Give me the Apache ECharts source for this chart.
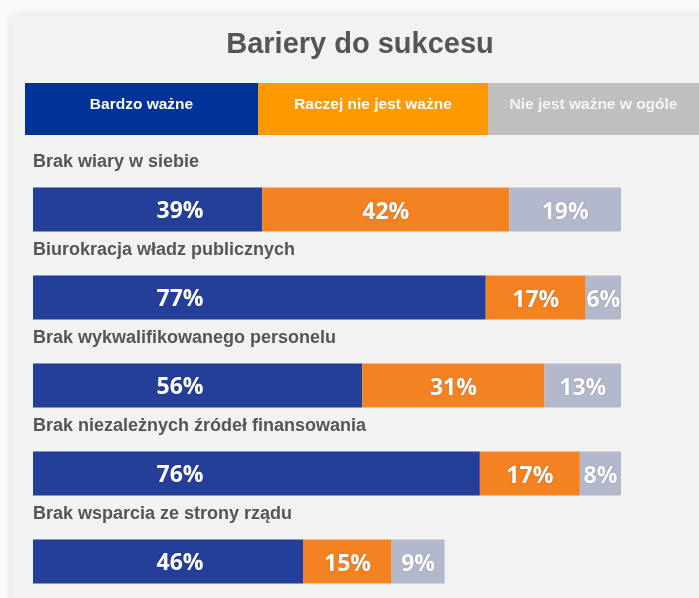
<!DOCTYPE html>
<html>
<head>
<meta charset="utf-8">
<script src="https://cdn.jsdelivr.net/npm/echarts@6/dist/echarts.min.js"></script>
<style>
html,body{margin:0;padding:0;background:#fafafa;}
#chart{width:699px;height:598px;}
</style>
</head>
<body>
<div id="chart"></div>
<script>
const titleText = 'Bariery do sukcesu';
const legendNames = ['Bardzo ważne', 'Raczej nie jest ważne', 'Nie jest ważne w ogóle'];
const categories = [
  'Brak wiary w siebie',
  'Biurokracja władz publicznych',
  'Brak wykwalifikowanego personelu',
  'Brak niezależnych źródeł finansowania',
  'Brak wsparcia ze strony rządu'
];
const bardzoWazne = [39, 77, 56, 76, 46];
const raczejNieWazne = [42, 17, 31, 17, 15];
const nieWazneWOgole = [19, 6, 13, 8, 9];

const colors = ['#233f99', '#f58220', '#b3b9cc'];
const legendColors = ['#003399', '#ff9900', '#bfbfbf'];

const chart = echarts.init(document.getElementById('chart'));

const legendBoxes = [[25, 233], [258, 230], [488, 211]];
const graphics = [
  {type:'rect', shape:{x:12,y:16,width:700,height:600}, style:{fill:'#f2f2f2', shadowBlur:10, shadowColor:'rgba(0,0,0,0.12)'}, z:-10},
  {type:'text', x:360, y:45, style:{text:titleText, fill:'#555555', font:'bold 29px "Liberation Sans", Arial, sans-serif', textAlign:'center', textVerticalAlign:'middle'}}
];
legendNames.forEach((n, i) => {
  const [x, w] = legendBoxes[i];
  graphics.push({type:'rect', shape:{x:x, y:83, width:w, height:52}, style:{fill:legendColors[i]}});
  graphics.push({type:'text', x:x + w/2, y:105, style:{text:n, fill: i===2 ? '#f4f4f4' : '#ffffff', font:'bold 15.5px "Liberation Sans", Arial, sans-serif', textAlign:'center', textVerticalAlign:'middle'}});
});

const valueLabel = {
  show:true,
  formatter: p => p.value + '%',
  color:'#ffffff',
  fontFamily:'"Open Sans", sans-serif',
  fontWeight:'bold',
  fontSize:23,
  textShadowColor:'rgba(40,40,90,0.35)',
  textShadowBlur:1.5
};

chart.setOption({
  backgroundColor:'#fafafa',
  animation:false,
  graphic: graphics,
  grid:[
    {left:33, width:588, top:209.5, height:352, containLabel:false},
    {left:33, width:588, top:162.5, height:352, containLabel:false}
  ],
  xAxis:[
    {type:'value', min:0, max:100, show:false, gridIndex:0},
    {type:'value', min:0, max:100, show:false, gridIndex:1}
  ],
  yAxis:[
    {
      type:'category', data:categories, inverse:true, boundaryGap:false, gridIndex:0,
      axisLine:{show:false}, axisTick:{show:false}, splitLine:{show:false}, axisLabel:{show:false}
    },
    {
      type:'category', data:categories, inverse:true, boundaryGap:false, gridIndex:1,
      axisLine:{show:false}, axisTick:{show:false}, splitLine:{show:false},
      axisLabel:{
        show:true, interval:0, inside:true, margin:0, align:'left', verticalAlign:'middle',
        color:'#555555', fontFamily:'"Liberation Sans", Arial, sans-serif',
        fontWeight:'bold', fontSize:18
      }
    }
  ],
  series:[
    {name:legendNames[0], type:'bar', stack:'a', barWidth:44, data:bardzoWazne,
      itemStyle:{color:colors[0]},
      label:Object.assign({}, valueLabel, {position:[147,'55%'], align:'center', verticalAlign:'middle'})},
    {name:legendNames[1], type:'bar', stack:'a', barWidth:44, data:raczejNieWazne,
      itemStyle:{color:colors[1]},
      label:Object.assign({}, valueLabel, {position:'inside', offset:[0,3]})},
    {name:legendNames[2], type:'bar', stack:'a', barWidth:44, data:nieWazneWOgole,
      itemStyle:{color:colors[2]},
      label:Object.assign({}, valueLabel, {position:'inside', offset:[0,3]})}
  ]
});
</script>
</body>
</html>
